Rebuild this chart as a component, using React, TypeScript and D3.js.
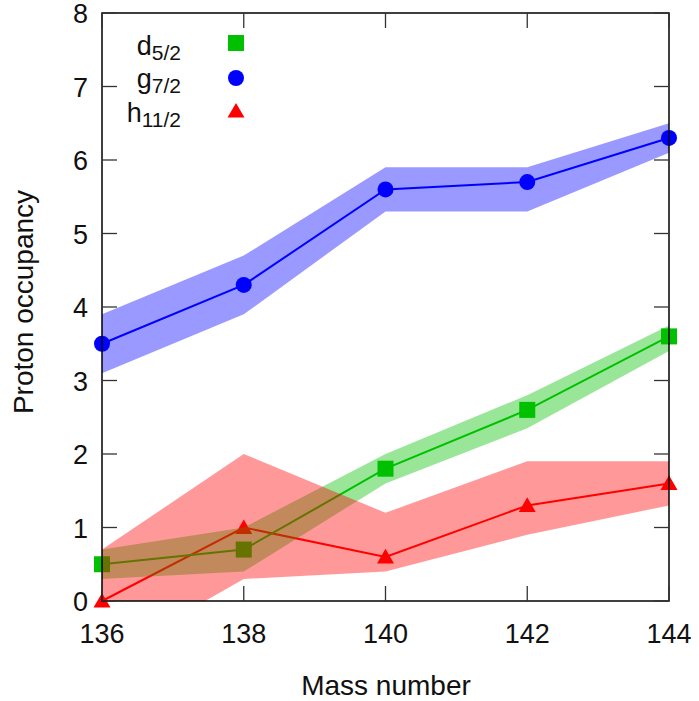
import React from "react";
import * as d3 from "d3";

// Mass numbers on the x axis
const massNumbers = [136, 138, 140, 142, 144];

// d5/2 occupancy with its uncertainty band
const dValues = [0.5, 0.7, 1.8, 2.6, 3.6];
const dLow = [0.3, 0.4, 1.6, 2.35, 3.4];
const dHigh = [0.7, 1.0, 2.0, 2.8, 3.75];

// g7/2 occupancy with its uncertainty band
const gValues = [3.5, 4.3, 5.6, 5.7, 6.3];
const gLow = [3.1, 3.9, 5.3, 5.3, 6.1];
const gHigh = [3.9, 4.7, 5.9, 5.9, 6.5];

// h11/2 occupancy with its uncertainty band
const hValues = [0.0, 1.0, 0.6, 1.3, 1.6];
const hLow = [-0.8, 0.3, 0.4, 0.9, 1.3];
const hHigh = [0.7, 2.0, 1.2, 1.9, 1.9];

const xTicks = [136, 138, 140, 142, 144];
const yTicks = [0, 1, 2, 3, 4, 5, 6, 7, 8];

const W = 699;
const H = 701;
const left = 102;
const right = 669;
const top = 13;
const bottom = 601;
const FONT = "'Liberation Sans', Arial, sans-serif";

const GREEN = "#00c000";
const BLUE = "#0000ff";
const RED = "#ff0000";
const BAND_OPACITY = 0.4;

type Row = { x: number; v: number; lo: number; hi: number };

function rows(vals: number[], lo: number[], hi: number[]): Row[] {
  return massNumbers.map((x, i) => ({ x, v: vals[i], lo: lo[i], hi: hi[i] }));
}

export default function App() {
  const x = d3.scaleLinear().domain([136, 144]).range([left, right]);
  const y = d3.scaleLinear().domain([0, 8]).range([bottom, top]);

  const area = d3
    .area<Row>()
    .x((d) => x(d.x))
    .y0((d) => y(d.lo))
    .y1((d) => y(d.hi));
  const line = d3
    .line<Row>()
    .x((d) => x(d.x))
    .y((d) => y(d.v));

  const dRows = rows(dValues, dLow, dHigh);
  const gRows = rows(gValues, gLow, gHigh);
  const hRows = rows(hValues, hLow, hHigh);

  const sq = 16;
  const circleR = 8;
  const tri = (cx: number, cy: number, s = 17) => {
    const h = s * 0.866;
    return `M${cx},${cy - h * 0.55} L${cx + s / 2},${cy + h * 0.45} L${cx - s / 2},${cy + h * 0.45} Z`;
  };

  const tickLen = 15;

  return (
    <svg
      width={W}
      height={H}
      style={{ position: "absolute", left: 0, top: 0, background: "#fff" }}
      fontFamily={FONT}
    >
      <defs>
        <clipPath id="plot-area">
          <rect x={left} y={top} width={right - left} height={bottom - top} />
        </clipPath>
      </defs>

      {/* g7/2 band, line and points */}
      <path d={area(gRows) ?? ""} fill={BLUE} fillOpacity={BAND_OPACITY} clipPath="url(#plot-area)" />
      <path d={line(gRows) ?? ""} fill="none" stroke={BLUE} strokeWidth={2} />
      {gRows.map((d) => (
        <circle key={`g${d.x}`} cx={x(d.x)} cy={y(d.v)} r={circleR} fill={BLUE} />
      ))}

      {/* h11/2 line and points */}
      <path d={line(hRows) ?? ""} fill="none" stroke={RED} strokeWidth={2} />
      {hRows.map((d) => (
        <path key={`h${d.x}`} d={tri(x(d.x), y(d.v))} fill={RED} />
      ))}

      {/* d5/2 band, line and points */}
      <path d={area(dRows) ?? ""} fill={GREEN} fillOpacity={BAND_OPACITY} clipPath="url(#plot-area)" />
      <path d={line(dRows) ?? ""} fill="none" stroke={GREEN} strokeWidth={2} />
      {dRows.map((d) => (
        <rect
          key={`d${d.x}`}
          x={x(d.x) - sq / 2}
          y={y(d.v) - sq / 2}
          width={sq}
          height={sq}
          fill={GREEN}
        />
      ))}

      {/* h11/2 band on top */}
      <path d={area(hRows) ?? ""} fill={RED} fillOpacity={BAND_OPACITY} clipPath="url(#plot-area)" />

      {/* frame */}
      <rect x={left} y={top} width={right - left} height={bottom - top} fill="none" stroke="#000" strokeWidth={1.5} />

      {/* ticks */}
      {xTicks.map((t) => (
        <g key={`xt${t}`}>
          <line x1={x(t)} x2={x(t)} y1={bottom} y2={bottom - tickLen} stroke="#333" strokeWidth={1.3} />
          <line x1={x(t)} x2={x(t)} y1={top} y2={top + tickLen} stroke="#333" strokeWidth={1.3} />
          <text x={x(t)} y={643} textAnchor="middle" fontSize={27} fill="#111">
            {t}
          </text>
        </g>
      ))}
      {yTicks.map((t) => (
        <g key={`yt${t}`}>
          <line x1={left} x2={left + tickLen} y1={y(t)} y2={y(t)} stroke="#333" strokeWidth={1.3} />
          <line x1={right} x2={right - tickLen} y1={y(t)} y2={y(t)} stroke="#333" strokeWidth={1.3} />
          <text x={88} y={y(t) + 10} textAnchor="end" fontSize={27} fill="#111">
            {t}
          </text>
        </g>
      ))}

      {/* axis titles */}
      <text x={386} y={695} textAnchor="middle" fontSize={28} fill="#111">
        Mass number
      </text>
      <text
        transform={`translate(33, 302) rotate(-90)`}
        textAnchor="middle"
        fontSize={28}
        fill="#111"
      >
        Proton occupancy
      </text>

      {/* legend */}
      <g fontSize={27} fill="#111">
        <text x={181} y={55} textAnchor="end">
          d<tspan fontSize={21} dy={5}>5/2</tspan>
        </text>
        <rect x={236 - sq / 2} y={43 - sq / 2} width={sq} height={sq} fill={GREEN} />
        <text x={181} y={88} textAnchor="end">
          g<tspan fontSize={21} dy={5}>7/2</tspan>
        </text>
        <circle cx={236} cy={78} r={circleR} fill={BLUE} />
        <text x={181} y={122} textAnchor="end">
          h<tspan fontSize={21} dy={5}>11/2</tspan>
        </text>
        <path d={tri(236, 111)} fill={RED} />
      </g>
    </svg>
  );
}
